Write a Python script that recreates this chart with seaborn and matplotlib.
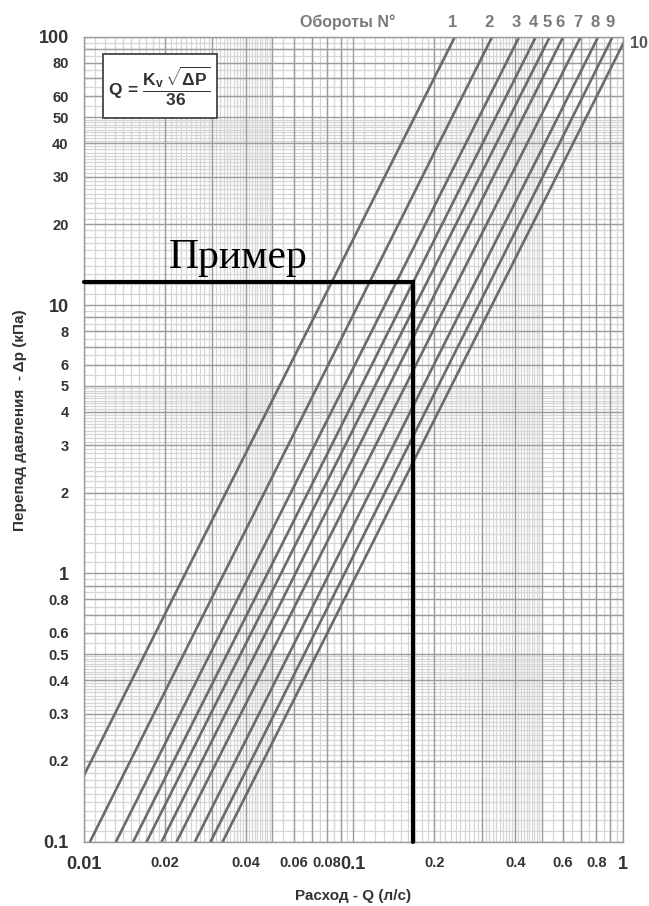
import numpy as np
import pandas as pd
import matplotlib
matplotlib.use('Agg')
import matplotlib.pyplot as plt
from matplotlib.patches import Rectangle
import seaborn as sns

# ====================================================
# DATA
# ====================================================
turns = ['1', '2', '3', '4', '5', '6', '7', '8', '9', '10']
# flow Q (l/s) of each line at dp = 0.1 kPa and at dp = 100 kPa
q_at_low = [0.00752, 0.01053, 0.01315, 0.01524, 0.01709, 0.01943, 0.02208, 0.02583, 0.02953, 0.03273]
q_at_high = [0.2386, 0.328, 0.4135, 0.4767, 0.537, 0.602, 0.699, 0.812, 0.919, 1.035]
dp_ends = [0.1, 100]

# worked example
example_q = 0.167
example_dp = 12.15

x_ticks = [0.01, 0.02, 0.03, 0.04, 0.05, 0.06, 0.07, 0.08, 0.09,
           0.1, 0.2, 0.3, 0.4, 0.5, 0.6, 0.7, 0.8, 0.9, 1]
x_labels = ['0.01', '0.02', '', '0.04', '', '0.06', '', '0.08', '',
            '0.1', '0.2', '', '0.4', '', '0.6', '', '0.8', '', '1']
y_ticks = [0.1, 0.2, 0.3, 0.4, 0.5, 0.6, 0.7, 0.8, 0.9,
           1, 2, 3, 4, 5, 6, 7, 8, 9,
           10, 20, 30, 40, 50, 60, 70, 80, 90, 100]
y_labels = ['0.1', '0.2', '0.3', '0.4', '0.5', '0.6', '', '0.8', '',
            '1', '2', '3', '4', '5', '6', '', '8', '',
            '10', '20', '30', '40', '50', '60', '', '80', '', '100']
big_labels = ['0.01', '0.1', '1', '10', '100']

# long table for seaborn
rows = []
for n, lo, hi in zip(turns, q_at_low, q_at_high):
    rows.append({'n': n, 'Q': lo, 'dP': dp_ends[0]})
    rows.append({'n': n, 'Q': hi, 'dP': dp_ends[1]})
df = pd.DataFrame(rows)

# ====================================================
# STYLE
# ====================================================
sns.set_style('white')
plt.rcParams['font.family'] = ['Liberation Sans', 'DejaVu Sans']
plt.rcParams['mathtext.fontset'] = 'custom'
plt.rcParams['mathtext.rm'] = 'Liberation Sans:bold'
plt.rcParams['mathtext.bf'] = 'Liberation Sans:bold'
plt.rcParams['mathtext.it'] = 'Liberation Sans:bold'
narrow = ['Liberation Sans Narrow', 'Liberation Sans', 'DejaVu Sans']

fig = plt.figure(figsize=(6.49, 9.06), dpi=100)
ax = fig.add_axes([0.1294, 0.0710, 0.8299, 0.8885])
ax.set_xscale('log')
ax.set_yscale('log')
ax.set_xlim(0.01, 1)
ax.set_ylim(0.1, 100)

# hand-made log-paper grid
def fine_lines(lo_dec, hi_dec):
    vals = []
    for d in range(lo_dec, hi_dec):
        base = 10.0 ** d
        for m in np.arange(1.1, 5.0, 0.1):
            vals.append(m * base)
        for m in np.arange(5.5, 10.0, 0.5):
            vals.append(m * base)
    return vals

for v in fine_lines(-2, 0):
    ax.axvline(v, color='#d6d6d6', lw=0.9, zorder=0)
for v in fine_lines(-1, 2):
    ax.axhline(v, color='#d6d6d6', lw=0.9, zorder=0)
for v in x_ticks:
    ax.axvline(v, color='#9c9c9c', lw=1.0, zorder=0.5)
for v in y_ticks:
    ax.axhline(v, color='#9c9c9c', lw=1.0, zorder=0.5)

# valve lines
sns.lineplot(data=df, x='Q', y='dP', units='n', estimator=None, sort=False,
             color='#6b6b6b', lw=1.9, ax=ax, zorder=2)

# example path
ax.plot([0.01, example_q, example_q], [example_dp, example_dp, 0.1],
        color='black', lw=3.0, solid_joinstyle='miter', zorder=3, clip_on=False)
ax.text(0.0373, 13.7, 'Пример', family=['Liberation Serif', 'DejaVu Serif'],
        fontsize=30, color='black', ha='center', va='baseline', zorder=3)

# turn numbers
ax.text(0.49, 1.008, 'Обороты N°', transform=ax.transAxes, ha='center', va='bottom',
        fontsize=11.5, fontweight='bold', color='#7a7a7a')
for n, hi in zip(turns[:-1], q_at_high[:-1]):
    ax.annotate(n, xy=(hi, 100), xytext=(-2, 5), textcoords='offset points',
                ha='center', va='bottom', fontsize=12, fontweight='bold', color='#7a7a7a')
ax.annotate(turns[-1], xy=(1, 100), xytext=(5, -5), textcoords='offset points',
            ha='left', va='center', fontsize=11.5, fontweight='bold', color='#555555',
            annotation_clip=False)

# formula box
ax.add_patch(Rectangle((0.0347, 0.899), 0.2117, 0.0795, transform=ax.transAxes,
                       fill=True, facecolor='white', edgecolor='#444444', lw=1.3, zorder=4))
ax.text(0.140, 0.9387, r'$Q\,=\,\dfrac{K_v\,\sqrt{\Delta P}}{36}$', transform=ax.transAxes,
        ha='center', va='center', fontsize=12.5, color='#333333', zorder=5)

# ticks
ax.minorticks_off()
ax.set_xticks(x_ticks)
ax.set_xticklabels(x_labels)
ax.set_yticks(y_ticks)
ax.set_yticklabels(y_labels)
ax.tick_params(axis='both', which='major', direction='out', length=6, width=1,
               color='#9a9a9a', labelcolor='#333333')
ax.tick_params(axis='x', pad=4)
ax.tick_params(axis='y', pad=5)
for lab in ax.get_xticklabels() + ax.get_yticklabels():
    if lab.get_text() in big_labels:
        lab.set_fontsize(13)
        lab.set_fontweight('bold')
    else:
        lab.set_family(narrow)
        lab.set_fontsize(10.5)
        lab.set_fontweight('bold')

for sp in ax.spines.values():
    sp.set_color('#9a9a9a')
    sp.set_linewidth(1.0)

ax.set_xlabel('Расход - Q (л/с)', fontsize=11, fontweight='bold', color='#333333')
ax.set_ylabel('Перепад давления  - Δp (кПа)', fontsize=11, fontweight='bold', color='#333333')
ax.xaxis.set_label_coords(0.5, -0.068)
ax.xaxis.label.set_va('center')
ax.yaxis.set_label_coords(-0.119, 0.524)
ax.yaxis.label.set_va('center')
ax.get_legend() and ax.get_legend().remove()

fig.savefig('out.png', dpi=100)
